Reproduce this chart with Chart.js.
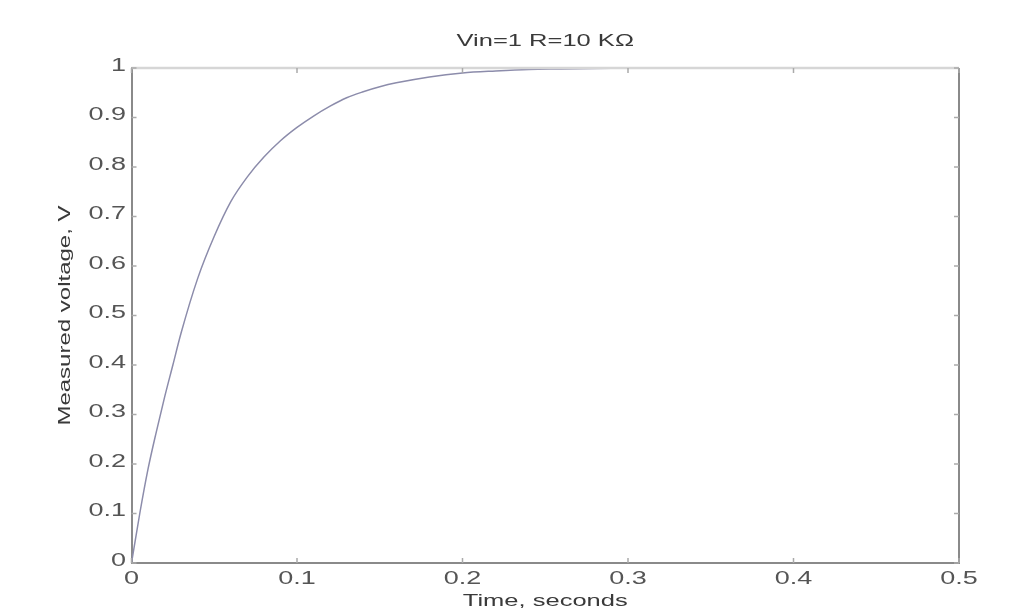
<!DOCTYPE html>
<html>
<head>
<meta charset="utf-8">
<script src="https://cdn.jsdelivr.net/npm/chart.js@4.4.1/dist/chart.umd.min.js"></script>
<style>
  html, body { margin: 0; padding: 0; background: #fff; }
  #wrap { width: 1025px; height: 612px; }
</style>
</head>
<body>
<div id="wrap"><canvas id="rcChart"></canvas></div>
<script>
// --- DATA ---
const times = [0, 0.005, 0.01, 0.015, 0.02, 0.025, 0.03, 0.04, 0.05, 0.06, 0.07, 0.08, 0.09, 0.1,
               0.11, 0.12, 0.13, 0.14, 0.15, 0.16, 0.18, 0.2, 0.22, 0.24, 0.26, 0.28, 0.3];
const voltages = [0, 0.10, 0.19, 0.265, 0.335, 0.40, 0.465, 0.575, 0.66, 0.73, 0.78, 0.82, 0.853, 0.88,
                  0.903, 0.923, 0.94, 0.952, 0.962, 0.97, 0.982, 0.99, 0.994, 0.997, 0.998, 0.999, 1.0];
const xTicks = [0, 0.1, 0.2, 0.3, 0.4, 0.5];
const yTicks = [0, 0.1, 0.2, 0.3, 0.4, 0.5, 0.6, 0.7, 0.8, 0.9, 1];

const chartTitle = "Vin=1 R=10 KΩ";
const xTitle = "Time, seconds";
const yTitle = "Measured voltage, V";

const fontFam = "'Liberation Sans', Arial, Helvetica, sans-serif";
const stretch = 1.5;   // source picture is widened, text looks stretched

const fmt = v => String(Number(v.toFixed(1)));

// draws a label stretched sideways along its own direction
function wideText(ctx, txt, x, y, align, rot) {
    ctx.save();
    ctx.translate(x, y);
    if (rot) ctx.rotate(rot);
    ctx.scale(stretch, 1);
    ctx.textAlign = align;
    ctx.fillText(txt, 0, 0);
    ctx.restore();
}

const textPlugin = {
    id: "wideText",
    afterDraw(chart) {
        const { ctx, chartArea: a, scales } = chart;
        ctx.save();
        ctx.textBaseline = "middle";
        const cx = (a.left + a.right) / 2;

        // tick labels
        ctx.fillStyle = "#555";
        ctx.font = "18px " + fontFam;
        xTicks.forEach(v => {
            wideText(ctx, fmt(v), scales.x.getPixelForValue(v), 579, "center");
        });
        yTicks.forEach(v => {
            wideText(ctx, fmt(v), 126, scales.y.getPixelForValue(v) - 2, "right");
        });

        // titles
        ctx.fillStyle = "#3a3a3a";
        ctx.font = "17px " + fontFam;
        wideText(ctx, chartTitle, cx, 41, "center");
        wideText(ctx, xTitle, cx, 601, "center");
        ctx.font = "16px " + fontFam;
        wideText(ctx, yTitle, 66, (a.top + a.bottom) / 2, "center", -Math.PI / 2);
        ctx.restore();
    }
};

// matlab-style box: inward ticks on all four sides + top/right borders
const boxPlugin = {
    id: "matlabBox",
    afterDraw(chart) {
        const { ctx, chartArea: a, scales } = chart;
        ctx.save();
        ctx.strokeStyle = "#d6d6d6";
        ctx.lineWidth = 2.5;
        ctx.beginPath();
        ctx.moveTo(a.left, a.top);
        ctx.lineTo(a.right, a.top);
        ctx.stroke();
        ctx.strokeStyle = "#8a8a8a";
        ctx.lineWidth = 2;
        ctx.beginPath();
        ctx.moveTo(a.right, a.top);
        ctx.lineTo(a.right, a.bottom);
        ctx.stroke();
        ctx.strokeStyle = "#aaa";
        ctx.lineWidth = 1.5;
        const len = 5;
        xTicks.forEach(v => {
            const px = scales.x.getPixelForValue(v);
            ctx.beginPath();
            ctx.moveTo(px, a.bottom); ctx.lineTo(px, a.bottom - len);
            ctx.moveTo(px, a.top); ctx.lineTo(px, a.top + len);
            ctx.stroke();
        });
        yTicks.forEach(v => {
            const py = scales.y.getPixelForValue(v);
            ctx.beginPath();
            ctx.moveTo(a.left, py); ctx.lineTo(a.left + len, py);
            ctx.moveTo(a.right, py); ctx.lineTo(a.right - len, py);
            ctx.stroke();
        });
        ctx.restore();
    }
};

new Chart(document.getElementById("rcChart"), {
    type: "line",
    data: {
        datasets: [{
            data: times.map((t, i) => ({ x: t, y: voltages[i] })),
            borderColor: "#8c8cab",
            borderWidth: 1.5,
            pointRadius: 0,
            cubicInterpolationMode: "monotone",
            fill: false
        }]
    },
    options: {
        responsive: true,
        maintainAspectRatio: false,
        animation: false,
        layout: { padding: { left: 0, right: 66, top: 68, bottom: 0 } },
        plugins: {
            legend: { display: false },
            tooltip: { enabled: false },
            title: { display: false }
        },
        scales: {
            x: {
                type: "linear",
                min: 0, max: 0.5,
                afterFit: s => { s.height = 49; },
                afterBuildTicks: s => { s.ticks = xTicks.map(v => ({ value: v })); },
                grid: { display: false, drawTicks: false },
                border: { display: true, color: "#8a8a8a", width: 2 },
                ticks: { display: false }
            },
            y: {
                type: "linear",
                min: 0, max: 1,
                afterFit: s => { s.width = 131.5; },
                afterBuildTicks: s => { s.ticks = yTicks.map(v => ({ value: v })); },
                grid: { display: false, drawTicks: false },
                border: { display: true, color: "#8a8a8a", width: 2 },
                ticks: { display: false }
            }
        }
    },
    plugins: [textPlugin, boxPlugin]
});
</script>
</body>
</html>
